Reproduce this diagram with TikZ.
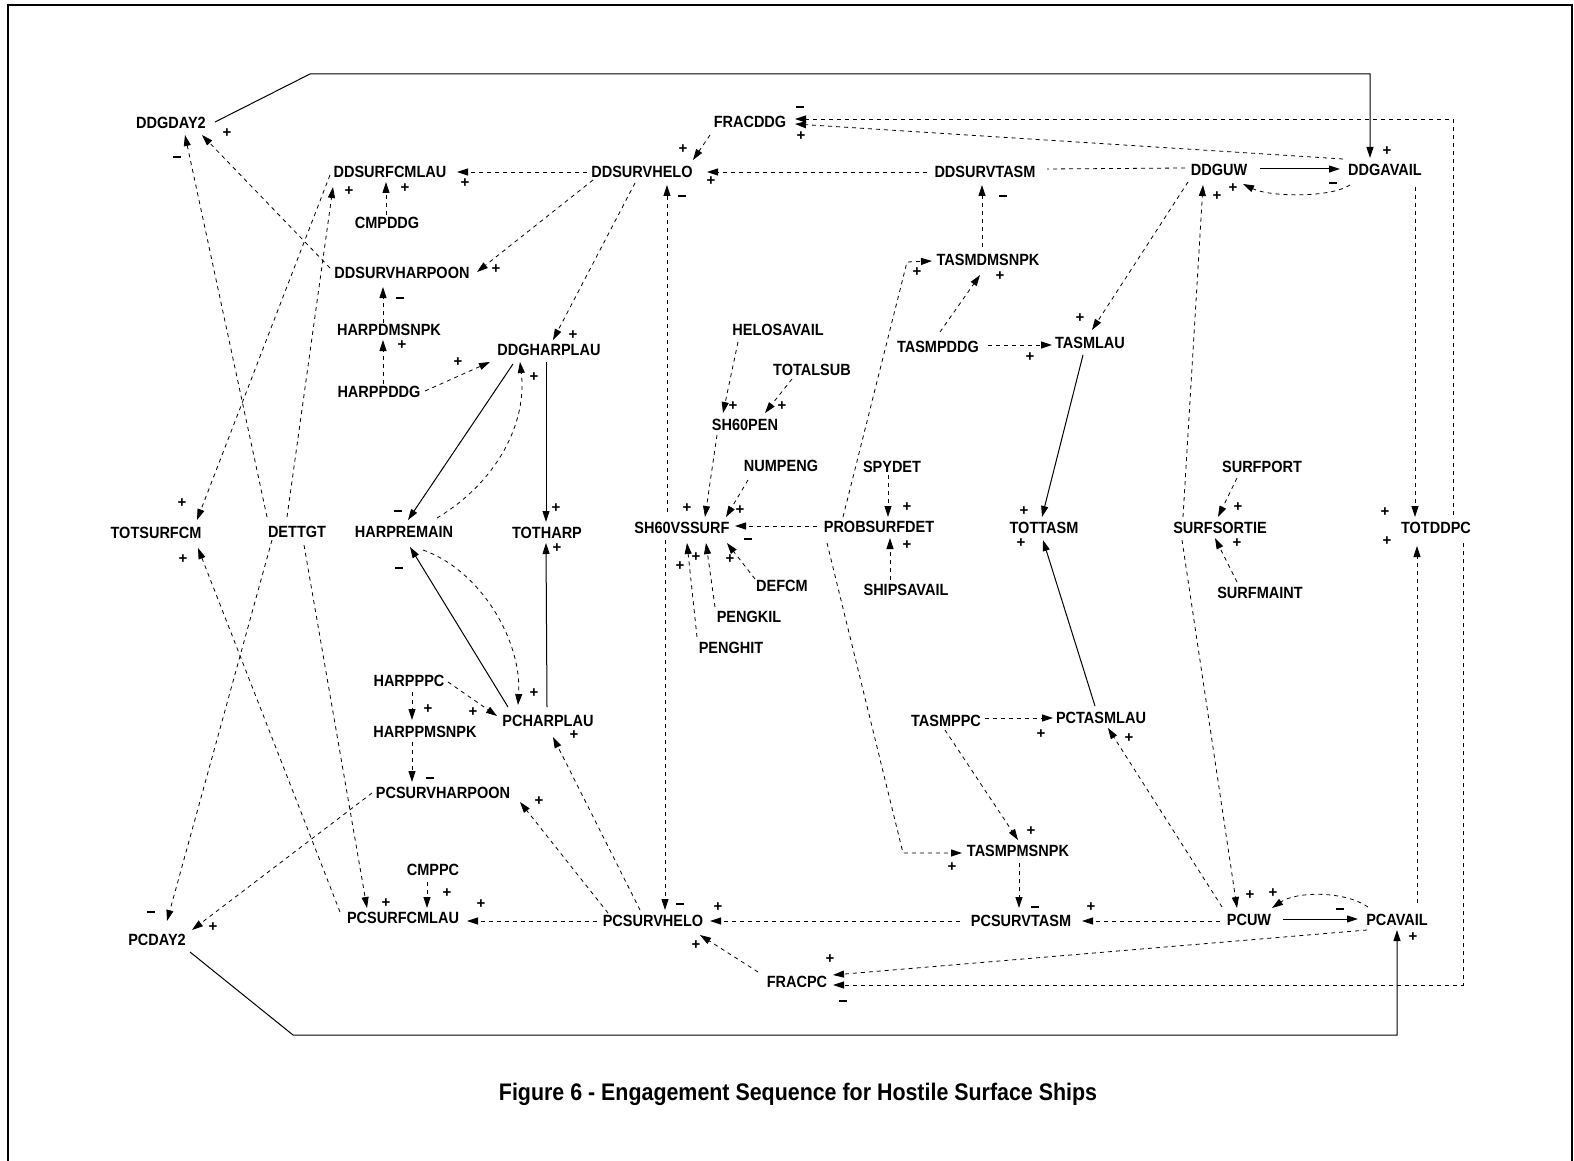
\documentclass[tikz,border=0pt]{standalone}
\usepackage{fontspec}
\usepackage{graphicx}
\setmainfont{Liberation Sans}
\usetikzlibrary{arrows.meta,calc}
\newcommand{\lbl}[1]{\scalebox{1}[1.12]{#1}}
\newcommand{\mn}{\rule{8pt}{2.4pt}}
\newcommand{\pl}{+}
\tikzset{
  v/.style={font=\bfseries\fontsize{14.5}{16}\selectfont, inner sep=0pt},
  sg/.style={font=\bfseries\fontsize{15}{16}\selectfont, inner sep=0pt},
  captext/.style={font=\bfseries\fontsize{21.4}{24}\selectfont, inner sep=0pt},
  dl/.style={dash pattern=on 4pt off 4pt, line width=0.8pt},
  sl/.style={line width=1pt},
  ar/.style={-{Triangle[length=11pt,width=7pt]}},
}
\begin{document}
\begin{tikzpicture}[x=1pt,y=-1pt]
\useasboundingbox (0,0) rectangle (1574,1161);
\draw[line width=1.6pt] (8,1161) -- (8,5) -- (1572,5) -- (1572,1161);
% nodes
\node[v] (DDGDAY2) at (171,123) {\lbl{DDGDAY2}};
\node[v] (FRACDDG) at (750,122) {\lbl{FRACDDG}};
\node[v] (DDSURFCMLAU) at (390,172) {\lbl{DDSURFCMLAU}};
\node[v] (DDSURVHELO) at (642,172) {\lbl{DDSURVHELO}};
\node[v] (DDSURVTASM) at (985,172) {\lbl{DDSURVTASM}};
\node[v] (DDGUW) at (1219,170) {\lbl{DDGUW}};
\node[v] (DDGAVAIL) at (1385,170) {\lbl{DDGAVAIL}};
\node[v] (CMPDDG) at (387,223) {\lbl{CMPDDG}};
\node[v] (DDSURVHARPOON) at (402,273) {\lbl{DDSURVHARPOON}};
\node[v] (TASMDMSNPK) at (988,260) {\lbl{TASMDMSNPK}};
\node[v] (HARPDMSNPK) at (389,330) {\lbl{HARPDMSNPK}};
\node[v] (HELOSAVAIL) at (778,330) {\lbl{HELOSAVAIL}};
\node[v] (DDGHARPLAU) at (549,350) {\lbl{DDGHARPLAU}};
\node[v] (TASMPDDG) at (938,347) {\lbl{TASMPDDG}};
\node[v] (TASMLAU) at (1090,343) {\lbl{TASMLAU}};
\node[v] (TOTALSUB) at (812,370) {\lbl{TOTALSUB}};
\node[v] (HARPPDDG) at (379,392) {\lbl{HARPPDDG}};
\node[v] (SH60PEN) at (745,425) {\lbl{SH60PEN}};
\node[v] (NUMPENG) at (781,466) {\lbl{NUMPENG}};
\node[v] (SPYDET) at (892,467) {\lbl{SPYDET}};
\node[v] (SURFPORT) at (1262,467) {\lbl{SURFPORT}};
\node[v] (TOTSURFCM) at (156,533) {\lbl{TOTSURFCM}};
\node[v] (DETTGT) at (297,532) {\lbl{DETTGT}};
\node[v] (HARPREMAIN) at (404,532) {\lbl{HARPREMAIN}};
\node[v] (TOTHARP) at (547,533) {\lbl{TOTHARP}};
\node[v] (SH60VSSURF) at (682,528) {\lbl{SH60VSSURF}};
\node[v] (PROBSURFDET) at (879,527) {\lbl{PROBSURFDET}};
\node[v] (TOTTASM) at (1044,528) {\lbl{TOTTASM}};
\node[v] (SURFSORTIE) at (1220,528) {\lbl{SURFSORTIE}};
\node[v] (TOTDDPC) at (1436,528) {\lbl{TOTDDPC}};
\node[v] (DEFCM) at (782,586) {\lbl{DEFCM}};
\node[v] (SHIPSAVAIL) at (906,590) {\lbl{SHIPSAVAIL}};
\node[v] (SURFMAINT) at (1260,593) {\lbl{SURFMAINT}};
\node[v] (PENGKIL) at (749,617) {\lbl{PENGKIL}};
\node[v] (PENGHIT) at (731,648) {\lbl{PENGHIT}};
\node[v] (HARPPPC) at (409,681) {\lbl{HARPPPC}};
\node[v] (PCHARPLAU) at (548,721) {\lbl{PCHARPLAU}};
\node[v] (TASMPPC) at (946,721) {\lbl{TASMPPC}};
\node[v] (PCTASMLAU) at (1101,718) {\lbl{PCTASMLAU}};
\node[v] (HARPPMSNPK) at (425,732) {\lbl{HARPPMSNPK}};
\node[v] (PCSURVHARPOON) at (443,793) {\lbl{PCSURVHARPOON}};
\node[v] (TASMPMSNPK) at (1018,851) {\lbl{TASMPMSNPK}};
\node[v] (CMPPC) at (433,870) {\lbl{CMPPC}};
\node[v] (PCSURFCMLAU) at (403,918) {\lbl{PCSURFCMLAU}};
\node[v] (PCSURVHELO) at (653,921) {\lbl{PCSURVHELO}};
\node[v] (PCSURVTASM) at (1021,921) {\lbl{PCSURVTASM}};
\node[v] (PCUW) at (1249,920) {\lbl{PCUW}};
\node[v] (PCAVAIL) at (1397,920) {\lbl{PCAVAIL}};
\node[v] (PCDAY2) at (157,940) {\lbl{PCDAY2}};
\node[v] (FRACPC) at (797,982) {\lbl{FRACPC}};
\node[captext] (caption) at (798,1094) {\lbl{Figure 6 - Engagement Sequence for Hostile Surface Ships}};
% solid links
\draw[sl,ar] ($(DDGDAY2)+(44,-1)$) -- (310,74) -- (1370,74) -- ($(DDGAVAIL)+(-15,-12)$);
\draw[sl,ar] ($(DDGUW)+(41,-1)$) -- ($(DDGAVAIL)+(-45,-1)$);
\draw[sl,ar] ($(PCUW)+(34,-1)$) -- ($(PCAVAIL)+(-39,-1)$);
\draw[sl,ar] ($(PCDAY2)+(33,12)$) -- (293,1035) -- (1397,1035) -- ($(PCAVAIL)+(0,10)$);
\draw[sl,ar] ($(DDGHARPLAU)+(-36,14)$) -- ($(HARPREMAIN)+(4,-12)$);
\draw[sl,ar] ($(DDGHARPLAU)+(-3,12)$) -- ($(TOTHARP)+(-1,-11)$);
\draw[sl,ar] ($(PCHARPLAU)+(-1,-14)$) -- ($(TOTHARP)+(-1,10)$);
\draw[sl,ar] ($(PCHARPLAU)+(-40,-14)$) -- ($(HARPREMAIN)+(6,15)$);
\draw[sl,ar] ($(PCTASMLAU)+(-6,-12)$) -- ($(TOTTASM)+(-1,12)$);
\draw[sl,ar] ($(TASMLAU)+(-7,12)$) -- ($(TOTTASM)+(-2,-11)$);
% dashed links
\draw[dl,ar] ($(DDGAVAIL)+(-35,15)$) .. controls (1330,198) and (1270,197) .. ($(DDGUW)+(24,14)$);
\draw[dl,ar] ($(DDGAVAIL)+(-42,-11)$) -- ($(FRACDDG)+(45,2)$);
\draw[dl,ar] ($(TOTDDPC)+(17,-13)$) -- (1453,119) -- ($(FRACDDG)+(45,-3)$);
\draw[dl,ar] ($(DDGAVAIL)+(30,17)$) -- ($(TOTDDPC)+(-21,-11)$);
\draw[dl,ar] ($(PCAVAIL)+(20,-17)$) -- ($(TOTDDPC)+(-19,18)$);
\draw[dl,ar] ($(TOTDDPC)+(27,15)$) -- (1463,985) -- ($(FRACPC)+(36,3)$);
\draw[dl,ar] ($(PCAVAIL)+(-30,10)$) -- ($(FRACPC)+(36,-7)$);
\draw[dl,ar] ($(PCAVAIL)+(-29,-13)$) .. controls (1345,891) and (1297,891) .. ($(PCUW)+(23,-12)$);
\draw[dl,ar] ($(DDSURVHELO)+(-55,0)$) -- ($(DDSURFCMLAU)+(67,0)$);
\draw[dl,ar] ($(DDSURVTASM)+(-58,0)$) -- ($(DDSURVHELO)+(65,0)$);
\draw[dl] ($(DDGUW)+(-34,-2)$) -- ($(DDSURVTASM)+(62,-3)$);
\draw[dl,ar] ($(FRACDDG)+(-40,13)$) -- ($(DDSURVHELO)+(51,-12)$);
\draw[dl,ar] ($(DDSURVHELO)+(-49,8)$) -- ($(DDSURVHARPOON)+(75,-1)$);
\draw[dl,ar] ($(DDSURVHELO)+(-7,11)$) -- ($(DDGHARPLAU)+(4,-10)$);
\draw[dl,ar] ($(SH60VSSURF)+(-15,-16)$) -- ($(DDSURVHELO)+(25,13)$);
\draw[dl,ar] ($(SH60VSSURF)+(-17,12)$) -- ($(PCSURVHELO)+(12,-11)$);
\draw[dl,ar] ($(DDSURFCMLAU)+(-60,3)$) -- ($(TOTSURFCM)+(41,-13)$);
\draw[dl,ar] ($(DETTGT)+(-10,-15)$) -- ($(DDSURFCMLAU)+(-57,15)$);
\draw[dl,ar] ($(DETTGT)+(-30,-15)$) -- ($(DDGDAY2)+(14,12)$);
\draw[dl,ar] ($(DDSURVHARPOON)+(-72,-5)$) -- ($(DDGDAY2)+(31,12)$);
\draw[dl,ar] ($(CMPDDG)+(-1,-8)$) -- ($(DDSURFCMLAU)+(-4,10)$);
\draw[dl,ar] ($(HARPDMSNPK)+(-6,-7)$) -- ($(DDSURVHARPOON)+(-19,14)$);
\draw[dl,ar] ($(HARPPDDG)+(4,-8)$) -- ($(HARPDMSNPK)+(-6,10)$);
\draw[dl,ar] ($(HARPPDDG)+(46,-1)$) -- ($(DDGHARPLAU)+(-59,12)$);
\draw[dl,ar] ($(HARPREMAIN)+(33,-14)$) .. controls (500,480) and (527,420) .. ($(DDGHARPLAU)+(-29,12)$);
\draw[dl,ar] ($(HARPREMAIN)+(19,18)$) .. controls (480,570) and (522,640) .. ($(PCHARPLAU)+(-30,-16)$);
\draw[dl,ar] ($(HARPPPC)+(3,11)$) -- ($(HARPPMSNPK)+(-13,-12)$);
\draw[dl,ar] ($(HARPPPC)+(39,1)$) -- ($(PCHARPLAU)+(-51,-5)$);
\draw[dl,ar] ($(HARPPMSNPK)+(-13,10)$) -- ($(PCSURVHARPOON)+(-31,-11)$);
\draw[dl,ar] ($(PCSURVHARPOON)+(-71,0)$) -- ($(PCDAY2)+(35,-10)$);
\draw[dl,ar] ($(DETTGT)+(-25,8)$) -- ($(PCDAY2)+(10,-19)$);
\draw[dl,ar] ($(DETTGT)+(7,13)$) -- ($(PCSURFCMLAU)+(-36,-10)$);
\draw[dl,ar] ($(PCSURFCMLAU)+(-63,-6)$) -- ($(TOTSURFCM)+(42,15)$);
\draw[dl,ar] ($(CMPPC)+(-6,12)$) -- ($(PCSURFCMLAU)+(24,-10)$);
\draw[dl,ar] ($(PCSURVHELO)+(-56,0)$) -- ($(PCSURFCMLAU)+(64,3)$);
\draw[dl,ar] ($(PCSURVHELO)+(-45,-8)$) -- ($(PCSURVHARPOON)+(77,9)$);
\draw[dl,ar] ($(PCSURVHELO)+(-13,-11)$) -- ($(PCHARPLAU)+(5,16)$);
\draw[dl,ar] ($(PCSURVTASM)+(-61,0)$) -- ($(PCSURVHELO)+(57,0)$);
\draw[dl,ar] ($(PCUW)+(-29,1)$) -- ($(PCSURVTASM)+(61,0)$);
\draw[dl,ar] ($(FRACPC)+(-39,-10)$) -- ($(PCSURVHELO)+(47,14)$);
\draw[dl,ar] ($(TASMPMSNPK)+(1,12)$) -- ($(PCSURVTASM)+(-2,-13)$);
\draw[dl,ar] ($(TASMPPC)+(-1,9)$) -- ($(TASMPMSNPK)+(0,-11)$);
\draw[dl,ar] ($(TASMPPC)+(39,-3)$) -- ($(PCTASMLAU)+(-48,0)$);
\draw[dl,ar] ($(PCUW)+(-27,-13)$) -- ($(PCTASMLAU)+(7,10)$);
\draw[dl,ar] ($(DDGUW)+(-31,12)$) -- ($(TASMLAU)+(2,-13)$);
\draw[dl,ar] ($(TASMPDDG)+(50,-2)$) -- ($(TASMLAU)+(-38,2)$);
\draw[dl,ar] ($(TASMPDDG)+(2,-15)$) -- ($(TASMDMSNPK)+(-8,15)$);
\draw[dl,ar] ($(TASMDMSNPK)+(-6,-13)$) -- ($(DDSURVTASM)+(-3,13)$);
\draw[dl,ar] ($(PROBSURFDET)+(-36,-10)$) -- (907,262) -- ($(TASMDMSNPK)+(-56,1)$);
\draw[dl,ar] ($(PROBSURFDET)+(-52,16)$) -- (903,853) -- ($(TASMPMSNPK)+(-56,2)$);
\draw[dl,ar] ($(PROBSURFDET)+(-62,-1)$) -- ($(SH60VSSURF)+(53,-2)$);
\draw[dl,ar] ($(SPYDET)+(-4,8)$) -- ($(PROBSURFDET)+(9,-10)$);
\draw[dl,ar] ($(SHIPSAVAIL)+(-16,-10)$) -- ($(PROBSURFDET)+(11,11)$);
\draw[dl,ar] ($(HELOSAVAIL)+(-40,12)$) -- ($(SH60PEN)+(-22,-12)$);
\draw[dl,ar] ($(TOTALSUB)+(-20,9)$) -- ($(SH60PEN)+(20,-12)$);
\draw[dl,ar] ($(SH60PEN)+(-28,10)$) -- ($(SH60VSSURF)+(23,-11)$);
\draw[dl,ar] ($(NUMPENG)+(-33,14)$) -- ($(SH60VSSURF)+(44,-11)$);
\draw[dl,ar] ($(DEFCM)+(-27,-7)$) -- ($(SH60VSSURF)+(45,15)$);
\draw[dl,ar] ($(PENGKIL)+(-34,-10)$) -- ($(SH60VSSURF)+(24,15)$);
\draw[dl,ar] ($(PENGHIT)+(-34,-11)$) -- ($(SH60VSSURF)+(5,15)$);
\draw[dl,ar] ($(SURFSORTIE)+(-37,-11)$) -- ($(DDGUW)+(-16,15)$);
\draw[dl,ar] ($(SURFSORTIE)+(-38,12)$) -- ($(PCUW)+(-12,-12)$);
\draw[dl,ar] ($(SURFPORT)+(-25,11)$) -- ($(SURFSORTIE)+(-2,-11)$);
\draw[dl,ar] ($(SURFMAINT)+(-23,-11)$) -- ($(SURFSORTIE)+(-5,10)$);
% polarity signs
\foreach \px/\py/\s [count=\i] in {
 1387/151/\pl, 1333/183/\mn, 1233/188/\pl, 800/107/\mn, 801/136/\pl, 1385/512/\pl, 1387/541/\pl,
 843/1001/\mn, 830/959/\pl, 1340/909/\mn, 1273/893/\pl, 1413/937/\pl, 465/183/\pl, 711/181/\pl,
 683/149/\pl, 496/269/\pl, 573/335/\pl, 682/196/\mn, 680/904/\mn, 182/503/\pl, 349/191/\pl,
 177/157/\mn, 227/133/\pl, 405/188/\pl, 400/298/\mn, 402/345/\pl, 458/362/\pl, 398/511/\mn,
 534/377/\pl, 534/693/\pl, 556/508/\pl, 557/548/\pl, 399/568/\mn, 428/709/\pl, 473/712/\pl,
 430/778/\mn, 213/927/\pl, 151/912/\mn, 386/903/\pl, 183/559/\pl, 447/893/\pl, 481/904/\pl,
 539/801/\pl, 574/735/\pl, 718/907/\pl, 1091/907/\pl, 696/945/\pl, 1035/907/\mn, 1031/831/\pl,
 1041/734/\pl, 1129/738/\pl, 1021/543/\pl, 1024/511/\pl, 1080/318/\pl, 1030/357/\pl, 1000/276/\pl,
 1003/196/\mn, 917/272/\pl, 952/867/\pl, 748/539/\mn, 907/507/\pl, 907/545/\pl, 733/406/\pl,
 782/406/\pl, 687/508/\pl, 740/510/\pl, 730/559/\pl, 696/557/\pl, 680/566/\pl, 1217/196/\pl,
 1250/895/\pl, 1238/507/\pl, 1237/543/\pl}
 \node[sg] (s\i) at (\px,\py) {\s};
\end{tikzpicture}
\end{document}
